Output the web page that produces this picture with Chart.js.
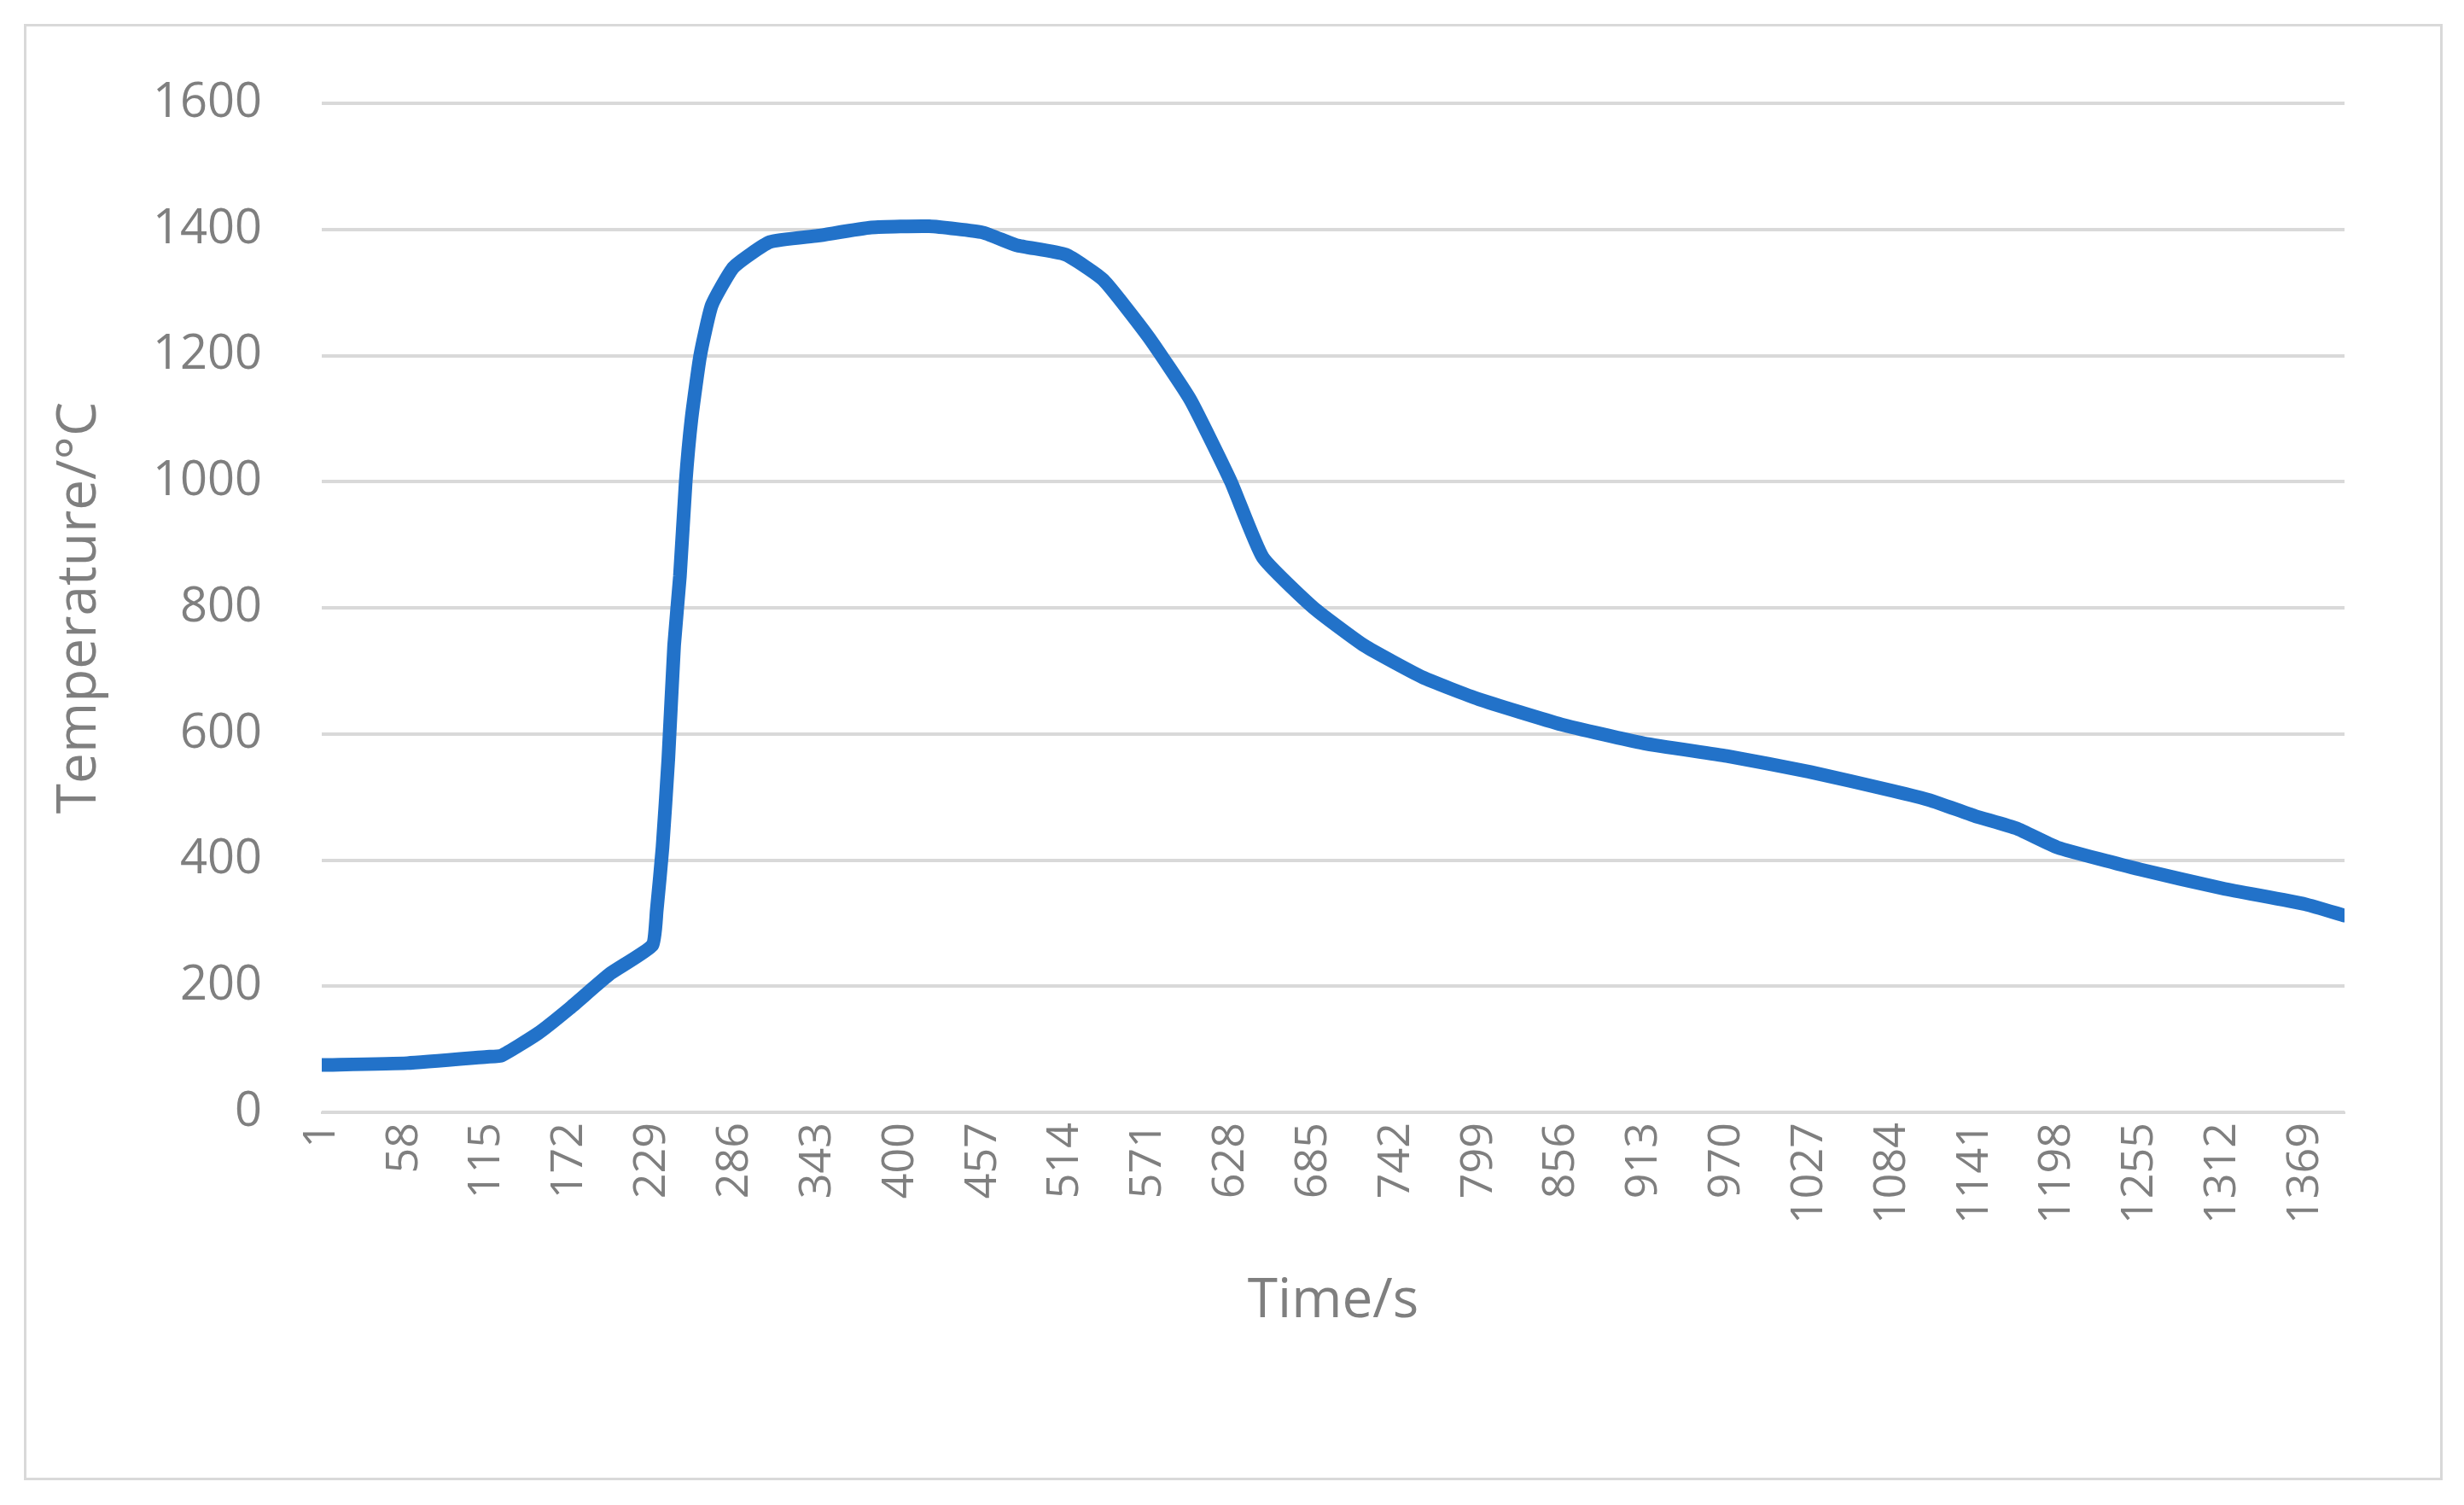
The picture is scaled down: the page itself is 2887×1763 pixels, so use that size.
<!DOCTYPE html>
<html><head><meta charset="utf-8">
<script src="https://cdn.jsdelivr.net/npm/chart.js@4"></script>
<style>
body{margin:0;background:#fff;}
#wrap{position:relative;width:2887px;height:1763px;}
#box{position:absolute;left:28px;top:28px;width:2828px;height:1700px;border:3px solid #d9d9d9;}
canvas{position:absolute;left:0;top:0;}
</style></head>
<body><div id="wrap"><div id="box"></div><canvas id="c" width="2887" height="1763"></canvas></div>
<script>
const times = [1,60,115,125,150,172,200,229,232,236,240,244,248,252,256,262,270,285,310,343,380,420,457,480,514,540,571,600,628,650,685,720,760,799,856,913,970,1027,1084,1110,1141,1170,1198,1255,1312,1369,1396];
const temps = [75,78,88,90,125,165,220,265,320,420,560,740,850,1000,1100,1200,1280,1340,1380,1390,1403,1405,1395,1375,1360,1320,1230,1130,1000,880,800,740,690,655,615,585,565,540,510,495,470,450,420,385,355,330,312];
const xTicks = [1,58,115,172,229,286,343,400,457,514,571,628,685,742,799,856,913,970,1027,1084,1141,1198,1255,1312,1369];
const yTicks = [0,200,400,600,800,1000,1200,1400,1600];
const gray = '#7f7f7f';
new Chart(document.getElementById('c'), {
  type:'line',
  data:{datasets:[{data:times.map((t,i)=>({x:t,y:temps[i]})),borderColor:'#2272c9',borderWidth:16,pointRadius:0,tension:0.15,fill:false,borderCapStyle:'round',borderJoinStyle:'round'}]},
  options:{
    responsive:false,animation:false,
    layout:{padding:{left:55,right:140,top:121,bottom:200}},
    plugins:{legend:{display:false},tooltip:{enabled:false}},
    scales:{
      x:{type:'linear',min:1,max:1396,
        afterBuildTicks:s=>{s.ticks=xTicks.map(v=>({value:v}));},
        afterFit:s=>{s.height=260;},
        grid:{display:false,drawTicks:false},border:{color:'#d9d9d9',width:3},
        ticks:{color:gray,font:{family:'Open Sans',size:52},minRotation:90,maxRotation:90,autoSkip:false,padding:12,callback:v=>String(v)},
        title:{display:true,text:'Time/s',color:gray,font:{family:'Open Sans',size:64},padding:{top:0,bottom:0}}},
      y:{min:0,max:1600,
        afterBuildTicks:s=>{s.ticks=yTicks.map(v=>({value:v}));},
        afterFit:s=>{s.width=322;},
        grid:{color:'#d9d9d9',lineWidth:4,drawTicks:false},border:{display:false},
        ticks:{color:gray,font:{family:'Open Sans',size:56},padding:70,callback:v=>String(v)},
        title:{display:true,text:'Temperature/°C',color:gray,font:{family:'Open Sans',size:64},padding:{bottom:0,top:0}}}
    }
  }
});
</script></body></html>
